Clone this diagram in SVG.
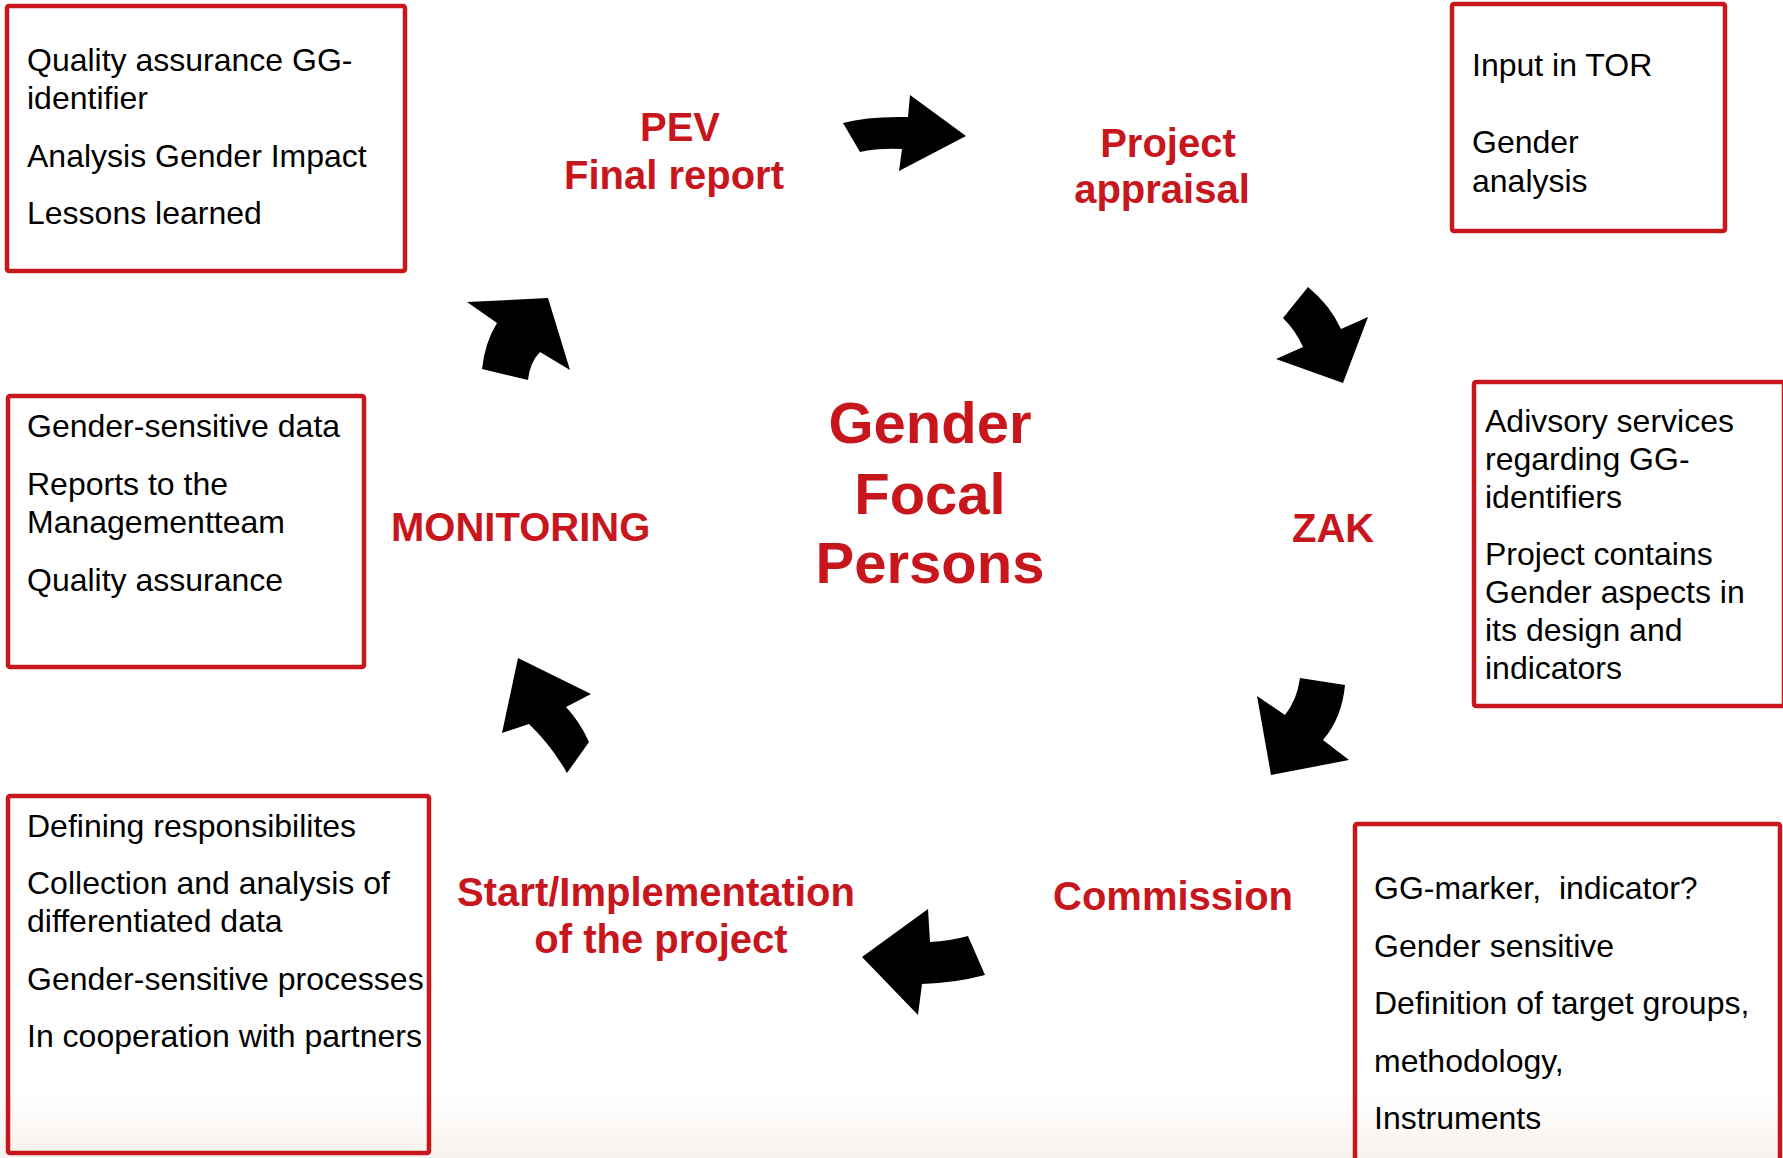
<svg xmlns="http://www.w3.org/2000/svg" width="1783" height="1158" viewBox="0 0 1783 1158">
  <defs>
    <linearGradient id="floor" x1="0" y1="0" x2="0" y2="1">
      <stop offset="0" stop-color="#ffffff"/>
      <stop offset="1" stop-color="#f7f2ed"/>
    </linearGradient>
  </defs>
  <style>
    .box { fill: none; stroke: #c8161d; stroke-width: 4.5; }
    .item { font-family: "Liberation Sans", Arial, sans-serif; font-size: 32px; fill: #000; }
    .stage { font-family: "Liberation Sans", Arial, sans-serif; font-size: 40px; font-weight: bold; fill: #c8161d; }
    .hub { font-family: "Liberation Sans", Arial, sans-serif; font-size: 58px; font-weight: bold; fill: #c8161d; text-anchor: middle; }
    .arrow { fill: #000; }
  </style>

  <!-- background with a faint warm fade at the bottom -->
  <rect x="0" y="0" width="1783" height="1158" fill="#ffffff"/>
  <rect x="0" y="1095" width="1783" height="63" fill="url(#floor)"/>

  <!-- centre title -->
  <g id="hub">
    <text class="hub" x="930" y="443">Gender</text>
    <text class="hub" x="930" y="514">Focal</text>
    <text class="hub" x="930" y="583">Persons</text>
  </g>

  <!-- cycle stages -->
  <g id="stage-pev">
    <text class="stage" x="680" y="141" text-anchor="middle">PEV</text>
    <text class="stage" x="674" y="189" text-anchor="middle">Final report</text>
  </g>
  <g id="stage-appraisal">
    <text class="stage" x="1168" y="157" text-anchor="middle">Project</text>
    <text class="stage" x="1162" y="203" text-anchor="middle">appraisal</text>
  </g>
  <g id="stage-zak">
    <text class="stage" x="1292" y="542">ZAK</text>
  </g>
  <g id="stage-commission">
    <text class="stage" x="1053" y="910">Commission</text>
  </g>
  <g id="stage-implementation">
    <text class="stage" x="656" y="906" text-anchor="middle">Start/Implementation</text>
    <text class="stage" x="661" y="953" text-anchor="middle">of the project</text>
  </g>
  <g id="stage-monitoring">
    <text class="stage" x="391" y="541">MONITORING</text>
  </g>

  <!-- curved block arrows between the stages -->
  <g id="connectors">
    <path class="arrow" d="M843,123 Q868,116 908,117 L910,95 L966,136 L899,171 L902,149 Q878,148 860,152 Z"/>
    <path class="arrow" d="M1308,287 Q1330,305 1341,329 L1368,317 L1343,383 L1276,359 L1303,347 Q1296,331 1283,318 Z"/>
    <path class="arrow" d="M1300,678 L1345,685 Q1342,718 1323,740 L1349,760 L1271,775 L1257,696 L1285,715 Q1297,700 1300,678 Z"/>
    <path class="arrow" d="M928,909 L930,942 Q950,941 968,936 L985,975 Q955,983 922,984 L918,1015 L862,957 Z"/>
    <path class="arrow" d="M518,658 L591,694 L566,707 Q580,722 589,742 L567,773 Q551,745 529,724 L502,733 Z"/>
    <path class="arrow" d="M467,302 L548,298 L570,370 L540,352 Q530,362 528,380 L482,369 Q485,342 497,323 Z"/>
  </g>

  <!-- task boxes -->
  <g id="box-pev">
    <rect class="box" x="7" y="6" width="398" height="265" rx="2"/>
    <text class="item" x="27" y="71">Quality assurance GG-</text>
    <text class="item" x="27" y="109">identifier</text>
    <text class="item" x="27" y="167">Analysis Gender Impact</text>
    <text class="item" x="27" y="224">Lessons learned</text>
  </g>
  <g id="box-appraisal">
    <rect class="box" x="1452" y="4" width="273" height="227" rx="2"/>
    <text class="item" x="1472" y="76">Input in TOR</text>
    <text class="item" x="1472" y="153">Gender</text>
    <text class="item" x="1472" y="192">analysis</text>
  </g>
  <g id="box-zak">
    <rect class="box" x="1474" y="382" width="310" height="324" rx="2"/>
    <text class="item" x="1485" y="432">Adivsory services</text>
    <text class="item" x="1485" y="470">regarding GG-</text>
    <text class="item" x="1485" y="508">identifiers</text>
    <text class="item" x="1485" y="565">Project contains</text>
    <text class="item" x="1485" y="603">Gender aspects in</text>
    <text class="item" x="1485" y="641">its design and</text>
    <text class="item" x="1485" y="679">indicators</text>
  </g>
  <g id="box-commission">
    <rect class="box" x="1355" y="824" width="425" height="345" rx="2" fill="#ffffff"/>
    <text class="item" x="1374" y="899" xml:space="preserve">GG-marker,  indicator?</text>
    <text class="item" x="1374" y="957">Gender sensitive</text>
    <text class="item" x="1374" y="1014">Definition of target groups,</text>
    <text class="item" x="1374" y="1072">methodology,</text>
    <text class="item" x="1374" y="1129">Instruments</text>
  </g>
  <g id="box-implementation">
    <rect class="box" x="8" y="796" width="421" height="357" rx="2"/>
    <text class="item" x="27" y="837">Defining responsibilites</text>
    <text class="item" x="27" y="894">Collection and analysis of</text>
    <text class="item" x="27" y="932">differentiated data</text>
    <text class="item" x="27" y="990">Gender-sensitive processes</text>
    <text class="item" x="27" y="1047">In cooperation with partners</text>
  </g>
  <g id="box-monitoring">
    <rect class="box" x="8" y="396" width="356" height="271" rx="2"/>
    <text class="item" x="27" y="437">Gender-sensitive data</text>
    <text class="item" x="27" y="495">Reports to the</text>
    <text class="item" x="27" y="533">Managementteam</text>
    <text class="item" x="27" y="591">Quality assurance</text>
  </g>
</svg>
